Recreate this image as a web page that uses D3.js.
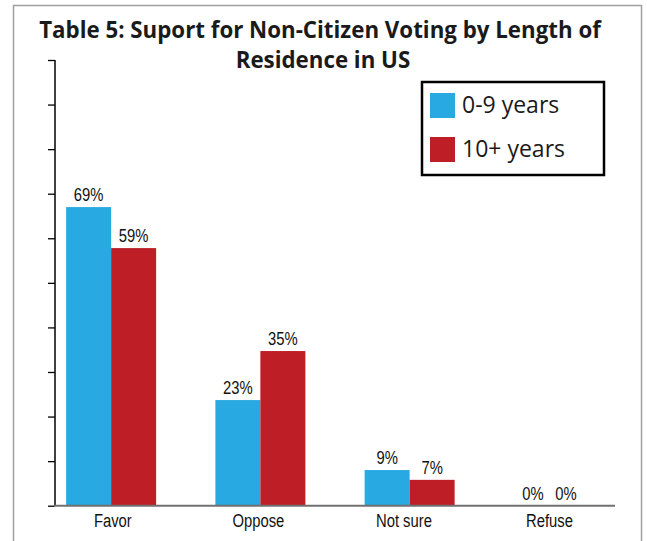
<!DOCTYPE html>
<html><head><meta charset="utf-8">
<script src="https://cdn.jsdelivr.net/npm/d3@7"></script>
<style>body{margin:0;background:#fff}svg{display:block}</style>
</head><body>
<svg id="c" width="647" height="541"></svg>
<script>
const categories = ["Favor", "Oppose", "Not sure", "Refuse"];
const seriesNames = ["0-9 years", "10+ years"];
const shortTerm = [67.0, 23.7, 8.0, 0];
const longTerm = [57.8, 34.7, 5.8, 0];
const shortLabels = ["69%", "23%", "9%", "0%"];
const longLabels = ["59%", "35%", "7%", "0%"];
const yTicks = [0, 10, 20, 30, 40, 50, 60, 70, 80, 90, 100];
const colors = ["#29a9e1", "#be1e26"];

const svg = d3.select("#c");
const narrow = "'Liberation Sans', Arial, sans-serif";
const sx = 0.78;
// frame
svg.append("path").attr("d", "M13.5,541 V5.5 H641.5 V541").attr("fill", "none").attr("stroke", "#a0a0a0").attr("stroke-width", 1.5);

const y = d3.scaleLinear().domain([0, 100]).range([505.7, 60]);
const x0 = d3.scaleBand().domain(categories).range([36.5, 633.5]).paddingInner(0.397).paddingOuter(0.1985);
const x1 = d3.scaleBand().domain(seriesNames).range([0, x0.bandwidth()]);
const xl = d3.scalePoint().domain(categories).range([112.8, 549.5]);

// y axis
const yAxis = d3.axisLeft(y).tickValues(yTicks).tickSize(7).tickFormat("");
const gy = svg.append("g").attr("transform", "translate(55,0)").call(yAxis);
gy.select(".domain").attr("stroke", "#000").attr("stroke-width", 1.5).attr("d", "M0,60V505.7");
gy.selectAll(".tick line").attr("stroke", "#000").attr("stroke-width", 1.3);

const data = categories.map((c, i) => ({c, vals: [
  {c, s: seriesNames[0], v: shortTerm[i], lab: shortLabels[i]},
  {c, s: seriesNames[1], v: longTerm[i], lab: longLabels[i]}]}));

const groups = svg.append("g").selectAll("g").data(data).join("g")
  .attr("transform", d => `translate(${x0(d.c)},0)`);
groups.selectAll("rect").data(d => d.vals).join("rect")
  .attr("x", d => x1(d.s)).attr("width", x1.bandwidth())
  .attr("y", d => y(d.v)).attr("height", d => y(0) - y(d.v))
  .attr("fill", (d, i) => colors[i]);
groups.selectAll("text").data(d => d.vals).join("text")
  .attr("transform", d => {
    const cx = d.v === 0
      ? xl(d.c) - x0(d.c) + (d.s === seriesNames[0] ? -16.5 : 16.5)
      : x1(d.s) + x1.bandwidth() / 2;
    return `translate(${cx},${y(d.v) - 6}) scale(${sx},1)`;
  })
  .attr("text-anchor", "middle")
  .attr("font-family", narrow).attr("font-size", 19).attr("fill", "#111")
  .text(d => d.lab);

// x axis
svg.append("line").attr("x1", 54).attr("x2", 615).attr("y1", y(0)).attr("y2", y(0))
  .attr("stroke", "#707070").attr("stroke-width", 2);
svg.append("g").selectAll("text").data(categories).join("text")
  .attr("transform", d => `translate(${xl(d)},527) scale(${sx},1)`)
  .attr("text-anchor", "middle").attr("font-family", narrow).attr("font-size", 19).attr("fill", "#111")
  .text(d => d);

// title
const title = svg.append("text").attr("text-anchor", "middle").attr("font-family", "'Open Sans', sans-serif")
  .attr("font-weight", "bold").attr("font-size", 22.3).attr("fill", "#1a1a1a");
title.append("tspan").attr("x", 320).attr("y", 38).text("Table 5: Suport for Non-Citizen Voting by Length of");
title.append("tspan").attr("x", 323).attr("y", 68).text("Residence in US");

// legend
const lg = svg.append("g");
lg.append("rect").attr("x", 422).attr("y", 82).attr("width", 182).attr("height", 93)
  .attr("fill", "#fff").attr("stroke", "#000").attr("stroke-width", 2.5);
seriesNames.forEach((s, i) => {
  lg.append("rect").attr("x", 430).attr("y", 93 + i * 44).attr("width", 25).attr("height", 25).attr("fill", colors[i]);
  lg.append("text").attr("x", 462).attr("y", 113 + i * 44).attr("font-family", "'Open Sans', sans-serif")
    .attr("font-size", 23).attr("fill", "#1a1a1a").text(s);
});
</script>
</body></html>
